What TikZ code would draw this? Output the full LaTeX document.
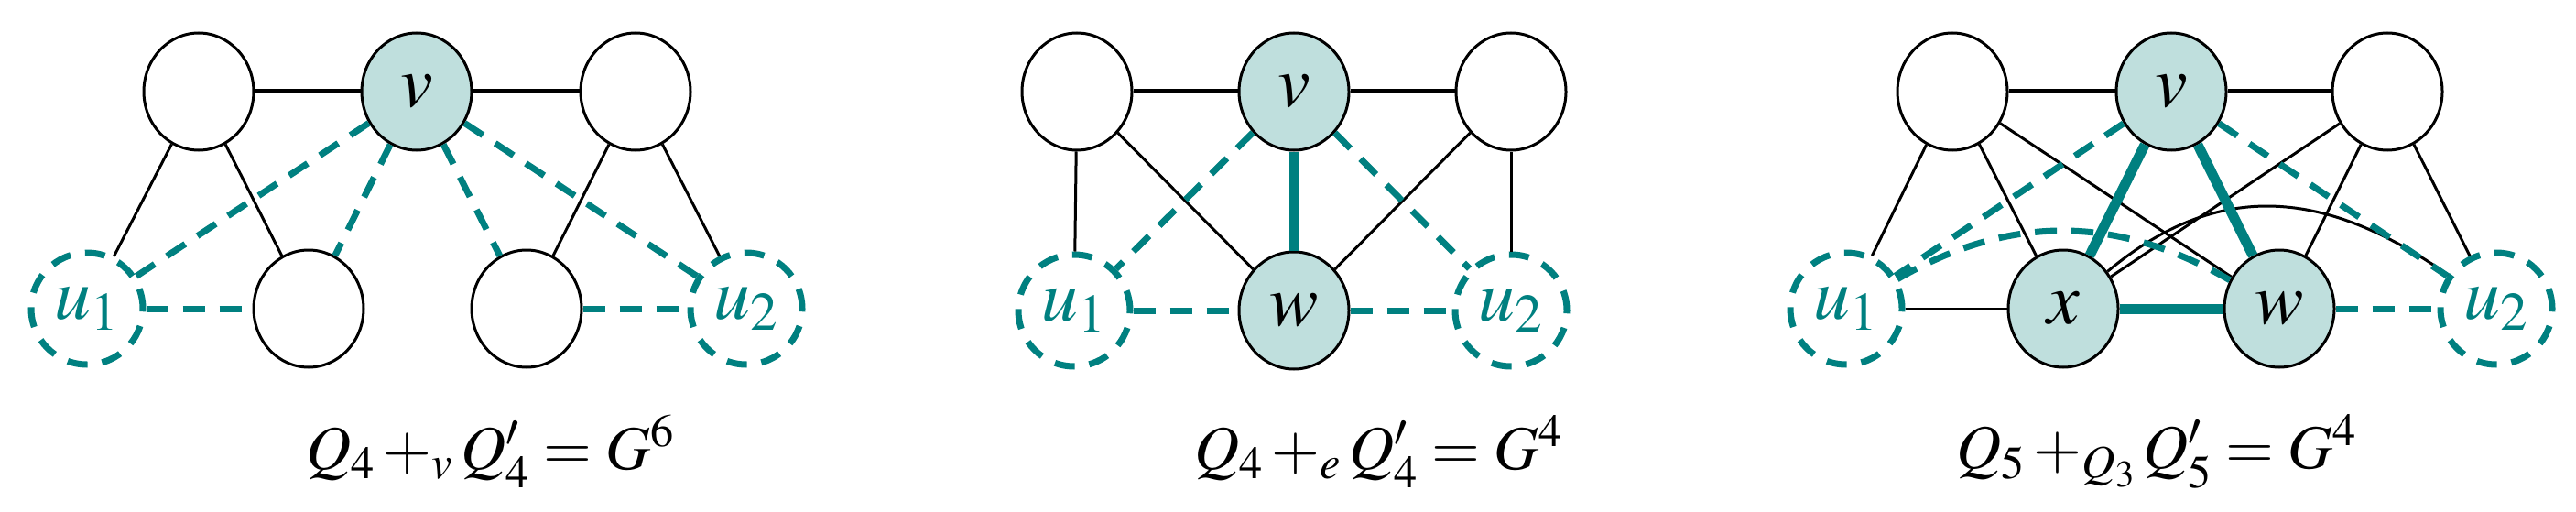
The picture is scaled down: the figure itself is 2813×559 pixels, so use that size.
\documentclass[tikz,border=0pt]{standalone}
\usepackage{mathptmx}
\usetikzlibrary{shapes.geometric}
\begin{document}
\begin{tikzpicture}[x=1pt,y=-1pt,
  nd/.style={draw=black,line width=3pt,ellipse,minimum width=120pt,minimum height=128pt,inner sep=0pt,font=\fontsize{80}{80}\selectfont},
  hl/.style={nd,fill=hlfill},
  un/.style={draw=tealc,line width=7pt,dash pattern=on 22pt off 16pt,ellipse,minimum width=122pt,minimum height=122pt,inner sep=0pt,text=tealc,font=\fontsize{80}{80}\selectfont},
  e/.style={line width=3pt},
  et/.style={line width=5pt},
  dt/.style={draw=tealc,line width=7pt,dash pattern=on 24pt off 16pt},
  tk/.style={draw=tealc,line width=11pt},
  lab/.style={font=\fontsize{68}{68}\selectfont}]
\definecolor{tealc}{HTML}{008080}
\definecolor{hlfill}{HTML}{BFDFDD}
\useasboundingbox (0,0) rectangle (2813,559);
% Panel 1
\node[nd] (a1) at (217,100) {};
\node[hl] (a2) at (455,100) {$v$};
\node[nd] (a3) at (694,100) {};
\node[nd] (a4) at (337,337) {};
\node[nd] (a5) at (575,337) {};
\node[un] (au1) at (95,337) {$u_1$};
\node[un] (au2) at (815,337) {$u_2$};
\draw[et] (a1)--(a2); \draw[et] (a2)--(a3);
\draw[e] (a1)--(au1); \draw[e] (a1)--(a4);
\draw[e] (a3)--(a5); \draw[e] (a3)--(au2);
\draw[dt] (a2)--(au1); \draw[dt] (a2)--(a4);
\draw[dt] (a2)--(a5); \draw[dt] (a2)--(au2);
\draw[dt] (au1)--(a4); \draw[dt] (a5)--(au2);
\node[lab] (l1) at (535,493) {$Q_4 +_v Q'_4 = G^6$};
% Panel 2
\node[nd] (b1) at (1176,100) {};
\node[hl] (b2) at (1413,100) {$v$};
\node[nd] (b3) at (1650,100) {};
\node[hl] (bw) at (1413,339) {$w$};
\node[un] (bu1) at (1173,339) {$u_1$};
\node[un] (bu2) at (1650,339) {$u_2$};
\draw[et] (b1)--(b2); \draw[et] (b2)--(b3);
\draw[e] (b1)--(bu1); \draw[e] (b3)--(bu2);
\draw[e] (b1)--(bw); \draw[e] (b3)--(bw);
\draw[tk] (b2)--(bw);
\draw[dt] (b2)--(bu1); \draw[dt] (b2)--(bu2);
\draw[dt] (bu1)--(bw); \draw[dt] (bw)--(bu2);
\node[lab] (l2) at (1505,493) {$Q_4 +_e Q'_4 = G^4$};
% Panel 3
\node[nd] (c1) at (2132,100) {};
\node[hl] (c2) at (2371,100) {$v$};
\node[nd] (c3) at (2607,100) {};
\node[hl] (cx) at (2253,337) {$x$};
\node[hl] (cw) at (2489,337) {$w$};
\node[un] (cu1) at (2016,337) {$u_1$};
\node[un] (cu2) at (2726,337) {$u_2$};
\draw[et] (c1)--(c2); \draw[et] (c2)--(c3);
\draw[e] (c1)--(cu1); \draw[e] (c1)--(cx); \draw[e] (c1)--(cw);
\draw[e] (c3)--(cx); \draw[e] (c3)--(cw); \draw[e] (c3)--(cu2);
\draw[e] (cu1)--(cx);
\draw[e] (cx) to[out=40,in=145,looseness=1.1] (cu2);
\draw[dt] (c2)--(cu1); \draw[dt] (c2)--(cu2);
\draw[dt] (cu1) to[out=30,in=150] (cw);
\draw[dt] (cw)--(cu2);
\draw[tk] (c2)--(cx); \draw[tk] (c2)--(cw); \draw[tk] (cx)--(cw);
\node[lab] (l3) at (2355,493) {$Q_5 +_{Q_3} Q'_5 = G^4$};
\end{tikzpicture}
\end{document}
